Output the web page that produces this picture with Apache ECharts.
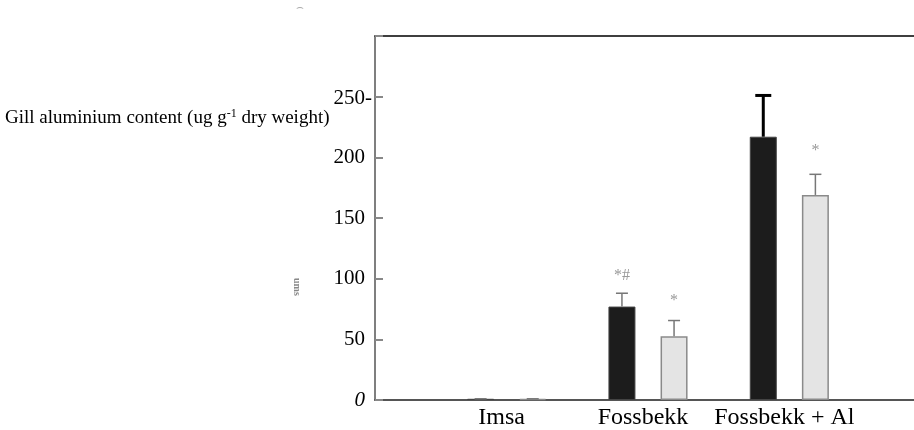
<!DOCTYPE html>
<html>
<head>
<meta charset="utf-8">
<script src="https://cdn.jsdelivr.net/npm/echarts@6/dist/echarts.min.js"></script>
<style>
  html, body { margin: 0; padding: 0; background: #fff; }
  #chart { width: 914px; height: 430px; }
</style>
</head>
<body>
<div id="chart"></div>
<script>
// data
var sites = ['Imsa', 'Fossbekk', 'Fossbekk + Al']
var darkValues = [1, 77, 217]
var darkErrTop = [1, 88, 251]
var lightValues = [1, 52.5, 169]
var lightErrTop = [1, 65.5, 186]
var darkMarks = ['', '*#', '']
var darkMarkAt = [0, 102, 0]
var lightMarks = ['', '*', '*']
var lightMarkAt = [0, 82, 205]
var yTickLabels = { 0: '0', 50: '50', 100: '100', 150: '150', 200: '200', 250: '250-' }

var serif = 'Liberation Serif'
// bar layout inside one category band
var barW = 27
var barGapPct = 93
var halfStep = (barW + barW * barGapPct / 100) / 2

var chart = echarts.init(document.getElementById('chart'))

function errorBars(tops, vals, side) {
  return {
    type: 'custom',
    xAxisIndex: 1,
    yAxisIndex: 1,
    z: 5,
    data: sites.map(function(s, i) { return [i, vals[i], tops[i]] }),
    renderItem: function(params, api) {
      var b = api.coord([api.value(0), api.value(1)])
      var t = api.coord([api.value(0), api.value(2)])
      var x = b[0] + side * halfStep
      // the large error bar on Fossbekk + Al is drawn heavier in the original
      var heavy = side < 0 && params.dataIndex === 2
      var cap = heavy ? 8 : 6
      var st = { stroke: heavy ? '#000' : '#777', lineWidth: heavy ? 3 : 1.5 }
      return {
        type: 'group',
        children: [
          { type: 'line', shape: { x1: x, y1: b[1], x2: x, y2: t[1] }, style: st },
          { type: 'line', shape: { x1: x - cap, y1: t[1], x2: x + cap, y2: t[1] }, style: st }
        ]
      }
    }
  }
}

function marks(texts, at, side) {
  return {
    type: 'custom',
    xAxisIndex: 1,
    yAxisIndex: 1,
    z: 6,
    data: sites.map(function(s, i) { return [i, at[i]] }),
    renderItem: function(params, api) {
      var txt = texts[params.dataIndex]
      if (!txt) return null
      var p = api.coord([api.value(0), api.value(1)])
      return {
        type: 'text',
        style: {
          x: p[0] + side * halfStep, y: p[1], text: txt,
          fill: '#999', font: '16px ' + serif, align: 'center', verticalAlign: 'middle'
        }
      }
    }
  }
}

chart.setOption({
  animation: false,
  title: {
    left: 0,
    top: 103,
    text: '{a|Gill aluminium content (ug g}{s|-1}{a| dry weight)}',
    textStyle: {
      fontWeight: 'normal',
      rich: {
        a: { fontFamily: serif, fontSize: 19, fontWeight: 'normal', color: '#000' },
        s: { fontFamily: serif, fontSize: 12, fontWeight: 'normal', color: '#000', verticalAlign: 'top', padding: [0, 0, 9, 0] }
      }
    }
  },
  grid: [
    { left: 375, right: 0, top: 36, bottom: 30 },
    { left: 436, right: 54, top: 36, bottom: 30 }
  ],
  xAxis: [
    {
      gridIndex: 0, type: 'value', min: 0, max: 1,
      axisLine: { show: true, lineStyle: { color: '#555', width: 2 } },
      axisTick: { show: false }, axisLabel: { show: false }, splitLine: { show: false }
    },
    {
      gridIndex: 1, type: 'category', data: sites,
      axisLine: { show: false }, axisTick: { show: false },
      axisLabel: {
        interval: 0, margin: 6, fontFamily: serif, fontSize: 24, color: '#000',
        padding: [0, 10, 0, 0]
      }
    },
    {
      gridIndex: 0, type: 'value', position: 'top', min: 0, max: 1,
      axisLine: { show: true, lineStyle: { color: '#000', width: 1.5 } },
      axisTick: { show: false }, axisLabel: { show: false }, splitLine: { show: false }
    }
  ],
  yAxis: [
    {
      gridIndex: 0, type: 'value', min: 0, max: 300, interval: 50,
      axisLine: { show: true, lineStyle: { color: '#555', width: 1.5 } },
      axisTick: { show: true, inside: true, length: 8, lineStyle: { color: '#888', width: 2 } },
      splitLine: { show: false },
      axisLabel: {
        margin: 10,
        formatter: function(v) {
          if (v === 0) return '{i|0}'
          if (v === 250) return '{d|' + yTickLabels[v] + '}'
          return yTickLabels[v] !== undefined ? '{n|' + yTickLabels[v] + '}' : ''
        },
        rich: {
          i: { fontFamily: serif, fontSize: 21, fontStyle: 'italic', color: '#000' },
          n: { fontFamily: serif, fontSize: 21, color: '#000' },
          d: { fontFamily: serif, fontSize: 21, color: '#000', padding: [4, -7, 0, 0] }
        }
      }
    },
    {
      gridIndex: 1, type: 'value', min: 0, max: 300, show: false
    }
  ],
  graphic: [
    {
      type: 'text', left: 292, top: 278, rotation: -Math.PI / 2,
      style: { text: 'ums', fill: '#888', font: 'bold 10px ' + serif }
    },
    {
      type: 'text', left: 296, top: 2,
      style: { text: '⌢', fill: '#aaa', font: '12px ' + serif }
    }
  ],
  series: [
    {
      type: 'bar', xAxisIndex: 1, yAxisIndex: 1, data: darkValues,
      barWidth: barW, barGap: barGapPct + '%',
      itemStyle: { color: '#1c1c1c', borderColor: '#444', borderWidth: 1 }
    },
    {
      type: 'bar', xAxisIndex: 1, yAxisIndex: 1, data: lightValues,
      barWidth: barW, barGap: barGapPct + '%',
      itemStyle: { color: '#e4e4e4', borderColor: '#8a8a8a', borderWidth: 1.5 }
    },
    errorBars(darkErrTop, darkValues, -1),
    errorBars(lightErrTop, lightValues, 1),
    marks(darkMarks, darkMarkAt, -1),
    marks(lightMarks, lightMarkAt, 1)
  ]
})
</script>
</body>
</html>
